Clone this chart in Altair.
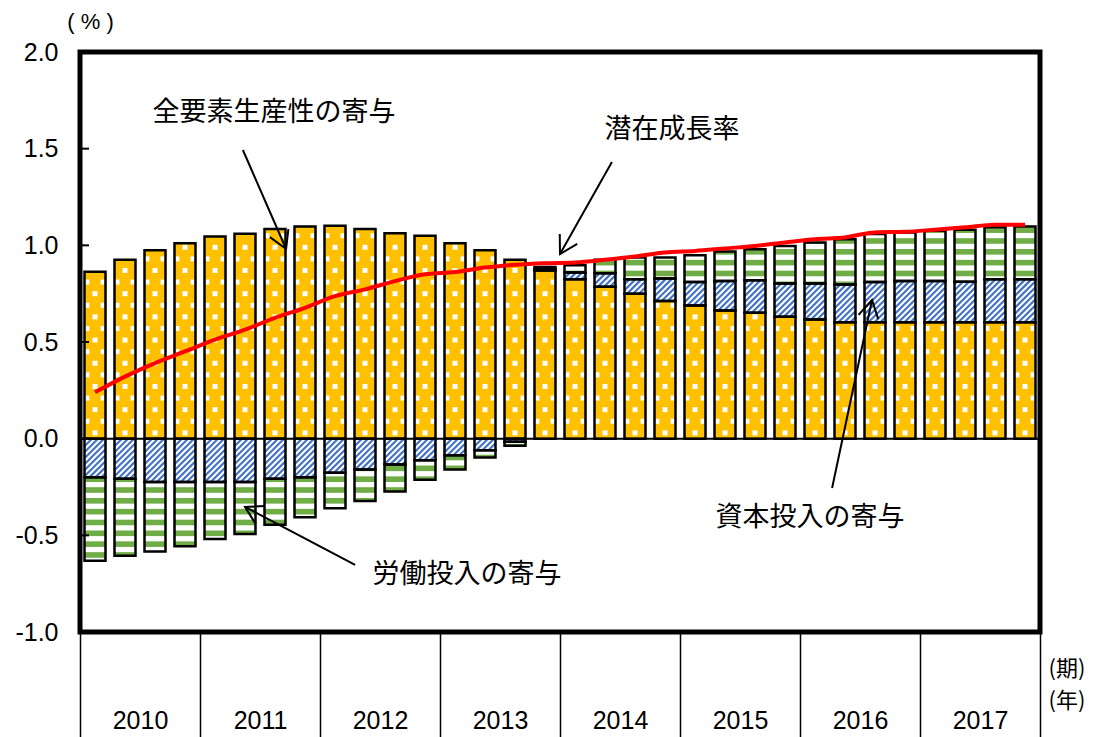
import json
import math
import altair as alt
import pandas as pd

# ---------------- data ----------------
years = ["2010", "2011", "2012", "2013", "2014", "2015", "2016", "2017"]
quarters = list(range(32))

tfp = [0.864, 0.925, 0.975, 1.011, 1.046, 1.060, 1.084, 1.098,
       1.101, 1.084, 1.062, 1.049, 1.011, 0.975, 0.925, 0.870,
       0.824, 0.786, 0.750, 0.712, 0.689, 0.663, 0.651, 0.630,
       0.616, 0.602, 0.602, 0.602, 0.602, 0.602, 0.602, 0.602]
capital = [-0.199, -0.207, -0.224, -0.224, -0.224, -0.224, -0.207, -0.199,
           -0.176, -0.160, -0.133, -0.112, -0.086, -0.060, -0.016, 0.008,
           0.035, 0.069, 0.074, 0.117, 0.121, 0.152, 0.168, 0.173,
           0.187, 0.196, 0.208, 0.213, 0.213, 0.210, 0.222, 0.222]
labor = [-0.433, -0.399, -0.359, -0.333, -0.295, -0.269, -0.238, -0.207,
         -0.184, -0.163, -0.140, -0.100, -0.074, -0.038, -0.021, 0.010,
         0.038, 0.070, 0.113, 0.108, 0.139, 0.153, 0.161, 0.194,
         0.212, 0.234, 0.248, 0.252, 0.260, 0.269, 0.269, 0.274]
potential = [0.240, 0.321, 0.391, 0.451, 0.512, 0.564, 0.625, 0.677,
             0.737, 0.772, 0.815, 0.850, 0.862, 0.885, 0.899, 0.907,
             0.911, 0.925, 0.942, 0.963, 0.971, 0.984, 0.997, 1.015,
             1.032, 1.041, 1.067, 1.070, 1.081, 1.093, 1.107, 1.107]

comp_keys = ["tfp", "cap", "lab"]
y_ticks = [-1.0, -0.5, 0.0, 0.5, 1.0, 1.5, 2.0]

# annotations: label, text position, arrow start, arrow tip (data units)
ann_labels = ["全要素生産性の寄与", "潜在成長率", "資本投入の寄与", "労働投入の寄与"]
ann_tx = [6.47, 19.73, 24.33, 12.90]
ann_ty = [1.684, 1.597, -0.410, -0.705]
ann_sx = [5.43, 17.73, 25.07, 9.17]
ann_sy = [1.493, 1.431, -0.255, -0.653]
ann_ex = [6.87, 16.00, 26.40, 5.50]
ann_ey = [0.981, 0.955, 0.717, -0.353]

# ---------------- layout constants ----------------
W, H = 960, 580
XD, YD = [0, 32], [-1, 2]
SX = W / (XD[1] - XD[0])
SY = H / (YD[1] - YD[0])

long_df = pd.DataFrame({
    "q": [q for q in quarters for _ in comp_keys],
    "comp": [c for _ in quarters for c in comp_keys],
    "order": [i for _ in quarters for i in range(3)],
    "value": [v for trio in zip(tfp, capital, labor) for v in trio],
})
pot_df = pd.DataFrame({"q": quarters, "pot": potential})
tick_df = pd.DataFrame({"t": y_ticks})

angles = []
for sx_, sy_, ex_, ey_ in zip(ann_sx, ann_sy, ann_ex, ann_ey):
    a = math.degrees(math.atan2(-(ey_ - sy_) * SY, (ex_ - sx_) * SX))
    angles.append(a % 360)
ann_df = pd.DataFrame({"label": ann_labels, "tx": ann_tx, "ty": ann_ty,
                       "sx": ann_sx, "sy": ann_sy, "ex": ann_ex, "ey": ann_ey,
                       "angle": angles})

xs = alt.Scale(domain=XD, nice=False, zero=False)
ys = alt.Scale(domain=YD, nice=False, zero=False)

year_js = json.dumps(years)
x_axis = alt.Axis(
    values=list(range(0, 33, 2)),
    labelExpr=f"datum.value % 4 == 2 ? {year_js}[floor(datum.value / 4)] : ''",
    tickOpacity={"condition": {"test": "datum.value % 4 == 2", "value": 0}, "value": 1},
    tickColor="black", tickSize=110, tickWidth=1.5,
    labelPadding=-22, labelBaseline="middle", labelFlush=False,
    labelFont="Liberation Sans", labelFontSize=25, labelColor="black",
    domain=False, grid=False,
    title=["(期)", "(年)"], titleX=968, titleY=26, titleAlign="left",
    titleBaseline="top", titleFont="Noto Sans CJK JP", titleFontSize=22,
    titleFontWeight="normal", titleColor="black", titleLineHeight=32,
)
y_axis = alt.Axis(
    values=y_ticks,
    labelExpr="datum.value < 0 ? '-' + format(-datum.value, '.1f') : format(datum.value, '.1f')",
    ticks=False, domain=False, grid=False, labelPadding=22,
    labelFont="Liberation Sans", labelFontSize=25, labelColor="black",
    title="( % )", titleAngle=0, titleX=10, titleY=-31, titleAlign="center",
    titleBaseline="middle", titleFont="Liberation Sans", titleFontSize=22,
    titleFontWeight="normal", titleColor="black",
)


def X(field):
    return alt.X(field, scale=xs, axis=x_axis)


def Y(field):
    return alt.Y(field, scale=ys, axis=y_axis)


base = alt.Chart(long_df).transform_stack(
    stack="value", groupby=["q"], as_=["v0", "v1"],
    sort=[alt.SortField(field="order", order="ascending")], offset="zero",
).transform_calculate(
    xl="datum.q + 0.15", xr="datum.q + 0.85",
    lo="min(datum.v0, datum.v1)", hi="max(datum.v0, datum.v1)",
)

fills = base.mark_rect().encode(
    x=X("xl:Q"), x2="xr:Q", y=Y("lo:Q"), y2="hi:Q",
    fill=alt.Fill("comp:N", scale=alt.Scale(domain=comp_keys,
                  range=["#FFC000", "#FFFFFF", "#FFFFFF"]), legend=None),
)

# green horizontal stripes (labour)
P, G = 0.056, 0.029
stripes = base.transform_filter("datum.comp == 'lab'").transform_calculate(
    k=f"sequence(floor(datum.lo / {P}), ceil(datum.hi / {P}) + 1)"
).transform_flatten(["k"]).transform_calculate(
    s0=f"max(datum.lo, datum.k * {P})"
).transform_calculate(
    s1=f"min(datum.hi, datum.k * {P} + {G})"
).transform_filter("datum.s1 > datum.s0").mark_rect(color="#70AD47").encode(
    x=X("xl:Q"), x2="xr:Q", y=Y("s0:Q"), y2="s1:Q",
)

# blue diagonal hatching (capital)
HS = 6
hatch = base.transform_filter("datum.comp == 'cap'").transform_calculate(
    m=f"sequence(ceil((datum.xl * {SX} - datum.hi * {SY}) / {HS}), floor((datum.xr * {SX} - datum.lo * {SY}) / {HS}) + 1)"
).transform_flatten(["m"]).transform_calculate(
    u=f"datum.m * {HS}"
).transform_calculate(
    xa=f"max(datum.xl, (datum.u + datum.lo * {SY}) / {SX})"
).transform_calculate(
    xb=f"min(datum.xr, (datum.u + datum.hi * {SY}) / {SX})"
).transform_calculate(
    ya=f"(datum.xa * {SX} - datum.u) / {SY}"
).transform_calculate(
    yb=f"(datum.xb * {SX} - datum.u) / {SY}"
).transform_filter("datum.xb > datum.xa").mark_rule(
    color="#4472C4", strokeWidth=2.2
).encode(
    x=X("xa:Q"), x2="xb:Q", y=Y("ya:Q"), y2="yb:Q",
)

# white dots (TFP)
DS = 0.06
dots = base.transform_filter("datum.comp == 'tfp'").transform_calculate(
    k=f"sequence(0, floor(datum.hi / {DS}) + 1)"
).transform_flatten(["k"]).transform_calculate(
    side="datum.k % 2 == 0 ? [0] : [-0.27, 0.27]"
).transform_flatten(["side"]).transform_calculate(
    dy=f"datum.k * {DS} + {DS / 2}"
).transform_calculate(
    dx="datum.q + 0.5 + datum.side"
).transform_filter("datum.dy < datum.hi - 0.015").mark_square(
    size=25, color="white", opacity=1, strokeWidth=0
).encode(
    x=X("dx:Q"), y=Y("dy:Q"),
)

outlines = base.mark_rect(fillOpacity=0, stroke="black", strokeWidth=2.5).encode(
    x=X("xl:Q"), x2="xr:Q", y=Y("lo:Q"), y2="hi:Q",
)

zero = alt.Chart(pd.DataFrame({"z": [0.0]})).mark_rule(
    color="black", strokeWidth=2
).encode(y=Y("z:Q"))

# small inward tick marks on the left frame
inner_ticks = alt.Chart(tick_df).mark_rule(color="black", strokeWidth=2).encode(
    y=Y("t:Q"), x=alt.value(0), x2=alt.value(9),
)

line = alt.Chart(pot_df).transform_calculate(xc="datum.q + 0.5").mark_line(
    color="#FF0000", strokeWidth=4, interpolate="monotone"
).encode(
    x=X("xc:Q"), y=Y("pot:Q"),
)

ann = alt.Chart(ann_df)
shafts = ann.mark_rule(color="black", strokeWidth=2).encode(
    x=X("sx:Q"), x2="ex:Q", y=Y("sy:Q"), y2="ey:Q",
)
heads = ann.mark_point(
    shape="M -1 -0.58 L 0 0 L -1 0.58", filled=False, color="black",
    strokeWidth=2, size=1200, opacity=1,
).encode(
    x=X("ex:Q"), y=Y("ey:Q"),
    angle=alt.Angle("angle:Q", scale=None),
)
texts = ann.mark_text(
    font="Noto Sans CJK JP", fontSize=27, color="black",
    align="center", baseline="middle",
).encode(
    x=X("tx:Q"), y=Y("ty:Q"), text="label:N",
)

chart = alt.layer(
    fills, stripes, hatch, dots, outlines, zero, inner_ticks, line,
    shafts, heads, texts
).properties(
    width=W, height=H,
    autosize=alt.AutoSizeParams(type="none"),
    padding={"left": 72, "top": 44, "right": 48, "bottom": 105},
    background="white",
).configure_view(
    stroke="black", strokeWidth=5
)

chart.save("out.html", embed_options={"renderer": "svg", "actions": False})
